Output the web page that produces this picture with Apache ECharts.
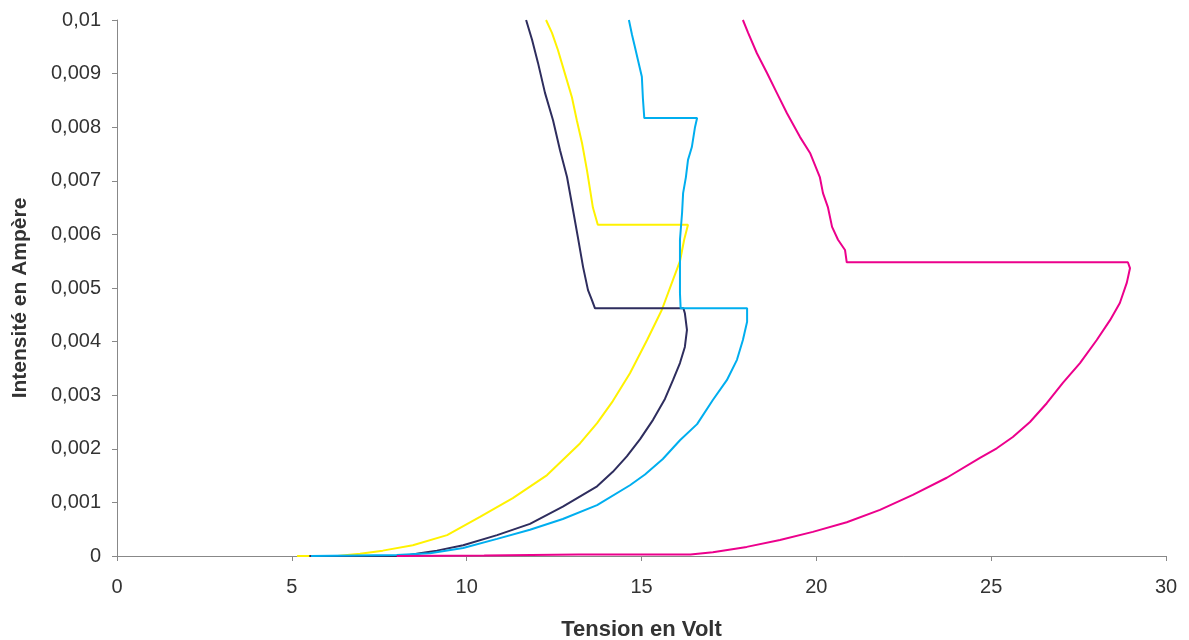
<!DOCTYPE html>
<html>
<head>
<meta charset="utf-8">
<script src="https://cdn.jsdelivr.net/npm/echarts@6/dist/echarts.min.js"></script>
<style>
html,body{margin:0;padding:0;background:#fff;}
#chart{width:1189px;height:640px;}
</style>
</head>
<body>
<div id="chart"></div>
<script>
// Tick labels
var xTicks = [0, 5, 10, 15, 20, 25, 30];
var yTicks = ['0', '0,001', '0,002', '0,003', '0,004', '0,005', '0,006', '0,007', '0,008', '0,009', '0,01'];

// Series data: [Tension (V), Intensité (A)]
var yellowData = [[5.15,0],[6.3,0],[6.95,0.00004],[7.6,0.0001],[8.46,0.0002],[9.44,0.00039],[10.38,0.00073],[11.32,0.00108],[12.3,0.00151],[13.24,0.0021],[13.73,0.00248],[14.18,0.00289],[14.67,0.00341],[15.16,0.00403],[15.58,0.00459],[15.9,0.00515],[16.1,0.0055],[16.22,0.0059],[16.33,0.00618],[13.75,0.00618],[13.61,0.0065],[13.53,0.00683],[13.44,0.0072],[13.3,0.0077],[13.15,0.00813],[13.01,0.00856],[12.81,0.009],[12.61,0.00944],[12.44,0.00976],[12.27,0.01]];
var navyData = [[5.5,0],[8.2,0],[8.66,0.00005],[9.15,0.0001],[9.9,0.0002],[10.87,0.00039],[11.81,0.0006],[12.75,0.00092],[13.73,0.0013],[14.18,0.00157],[14.58,0.00186],[14.96,0.00218],[15.33,0.00254],[15.67,0.00293],[15.9,0.00328],[16.1,0.0036],[16.24,0.0039],[16.3,0.00422],[16.24,0.00453],[16.2,0.00462],[13.67,0.00462],[13.58,0.00478],[13.47,0.00496],[13.33,0.00539],[13.18,0.00595],[13.04,0.00646],[12.87,0.00707],[12.67,0.00757],[12.47,0.00813],[12.24,0.00864],[12.04,0.0092],[11.87,0.00963],[11.7,0.01]];
var cyanData = [[5.55,0],[8.0,0.00002],[8.95,0.00005],[9.9,0.00015],[10.87,0.00032],[11.81,0.00049],[12.75,0.00069],[13.73,0.00095],[14.67,0.00132],[15.1,0.00152],[15.61,0.00181],[16.1,0.00216],[16.59,0.00246],[17.04,0.00291],[17.44,0.00328],[17.73,0.00366],[17.9,0.00403],[18.02,0.00437],[18.02,0.00462],[16.12,0.00462],[16.1,0.0049],[16.1,0.0059],[16.16,0.0064],[16.19,0.00677],[16.27,0.00707],[16.33,0.00739],[16.44,0.00763],[16.53,0.008],[16.59,0.00817],[15.08,0.00817],[15.04,0.00854],[15.01,0.00894],[14.9,0.00925],[14.81,0.0095],[14.73,0.00972],[14.64,0.01]];
var magentaData = [[8.0,0],[10.5,0.00001],[13.2,0.00003],[16.4,0.00003],[16.45,0.00005],[17.04,0.00007],[18.01,0.00017],[18.96,0.0003],[19.9,0.00045],[20.87,0.00063],[21.82,0.00086],[22.76,0.00114],[23.73,0.00146],[24.68,0.00183],[25.16,0.00201],[25.62,0.00222],[26.11,0.0025],[26.59,0.00285],[27.05,0.00323],[27.54,0.0036],[28.02,0.00403],[28.4,0.0044],[28.68,0.00472],[28.88,0.0051],[28.97,0.00537],[28.91,0.00548],[20.87,0.00548],[20.82,0.00571],[20.62,0.0059],[20.45,0.00614],[20.33,0.00651],[20.19,0.00677],[20.1,0.00707],[19.82,0.00752],[19.53,0.00782],[19.16,0.00826],[18.87,0.00864],[18.59,0.00901],[18.3,0.00938],[18.05,0.00976],[17.9,0.01]];

var chart = echarts.init(document.getElementById('chart'), null, {renderer: 'canvas'});
function mkSeries(data, color) {
  return {
    type: 'line',
    data: data,
    showSymbol: false,
    symbol: 'none',
    smooth: false,
    clip: true,
    lineStyle: {color: color, width: 2},
    itemStyle: {color: color},
    animation: false
  };
}
var font = '"Liberation Sans", Arial, sans-serif';
chart.setOption({
  animation: false,
  backgroundColor: '#ffffff',
  grid: {left: 117, right: 23, top: 20, bottom: 84, containLabel: false, outerBoundsMode: 'none'},
  xAxis: {
    type: 'value',
    min: xTicks[0], max: xTicks[xTicks.length - 1], interval: 5,
    name: 'Tension en Volt',
    nameLocation: 'middle',
    nameGap: 63,
    nameTextStyle: {fontFamily: font, fontWeight: 'bold', fontSize: 22, color: '#333'},
    axisLine: {show: true, onZero: false, lineStyle: {color: '#888888', width: 1}},
    axisTick: {show: true, inside: false, length: 5, lineStyle: {color: '#888888'}},
    axisLabel: {fontFamily: font, fontSize: 20, color: '#333', margin: 21},
    splitLine: {show: false}
  },
  yAxis: {
    type: 'value',
    min: 0, max: 0.01, interval: 0.001,
    name: 'Intensité en Ampère',
    nameLocation: 'middle',
    nameGap: 86,
    nameTextStyle: {fontFamily: font, fontWeight: 'bold', fontSize: 21, color: '#333', padding: [0, 20, 0, 0]},
    axisLine: {show: true, lineStyle: {color: '#888888', width: 1}},
    axisTick: {show: true, inside: false, length: 5, lineStyle: {color: '#888888'}},
    axisLabel: {
      fontFamily: font, fontSize: 20, color: '#333', margin: 16,
      formatter: function (v) { return yTicks[Math.round(v / 0.001)]; }
    },
    splitLine: {show: false}
  },
  series: [
    mkSeries(yellowData, '#FFF200'),
    mkSeries(navyData, '#2E2D5E'),
    mkSeries(cyanData, '#00AEEF'),
    mkSeries(magentaData, '#EC008C')
  ]
});
</script>
</body>
</html>
